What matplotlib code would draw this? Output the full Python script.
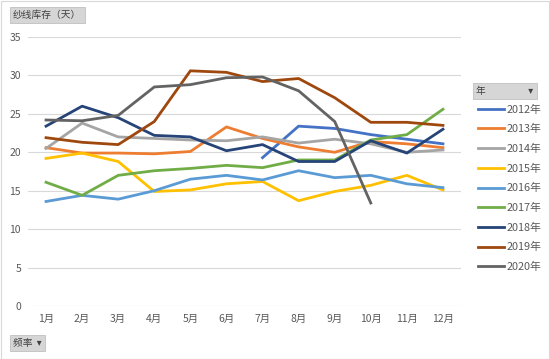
import matplotlib.pyplot as plt
from matplotlib.lines import Line2D
from matplotlib.patches import Rectangle

plt.rcParams['font.family'] = ['Noto Sans CJK SC', 'DejaVu Sans']

months = ['1月', '2月', '3月', '4月', '5月', '6月', '7月', '8月', '9月', '10月', '11月', '12月']

# inventory days per month, one list per year (None = no data)
y2012 = [None, None, None, None, None, None, 19.3, 23.4, 23.1, 22.3, 21.7, 21.1]
y2013 = [20.6, 19.9, 19.9, 19.8, 20.1, 23.3, 21.8, 20.7, 20.0, 21.4, 21.1, 20.6]
y2014 = [20.5, 23.8, 22.0, 21.8, 21.6, 21.5, 22.0, 21.2, 21.7, 21.1, 20.0, 20.3]
y2015 = [19.2, 19.9, 18.8, 14.9, 15.1, 15.9, 16.2, 13.7, 14.9, 15.7, 17.0, 15.1]
y2016 = [13.6, 14.4, 13.9, 15.0, 16.5, 17.0, 16.4, 17.6, 16.7, 17.0, 15.9, 15.4]
y2017 = [16.1, 14.4, 17.0, 17.6, 17.9, 18.3, 18.0, 19.0, 19.0, 21.6, 22.3, 25.6]
y2018 = [23.4, 26.0, 24.5, 22.2, 22.0, 20.2, 21.0, 18.8, 18.8, 21.5, 19.9, 23.0]
y2019 = [21.9, 21.3, 21.0, 24.0, 30.6, 30.4, 29.2, 29.6, 27.1, 23.9, 23.9, 23.5]
y2020 = [24.2, 24.1, 24.8, 28.5, 28.8, 29.7, 29.8, 28.0, 24.0, 13.4, None, None]

series = [
    ('2012年', y2012, '#4472C4'),
    ('2013年', y2013, '#ED7D31'),
    ('2014年', y2014, '#A5A5A5'),
    ('2015年', y2015, '#FFC000'),
    ('2016年', y2016, '#5B9BD5'),
    ('2017年', y2017, '#70AD47'),
    ('2018年', y2018, '#264478'),
    ('2019年', y2019, '#9E480E'),
    ('2020年', y2020, '#636363'),
]

fig = plt.figure(figsize=(5.5, 3.59), dpi=100)
fig.patches.append(Rectangle((0.001, 0.001), 0.997, 0.996, transform=fig.transFigure,
                             fill=False, edgecolor='#d9d9d9', linewidth=0.8))

ax = fig.add_axes([28 / 550, 1 - 306 / 359, 433 / 550, 269 / 359])
x = list(range(len(months)))
for name, vals, color in series:
    xs = [i for i, v in zip(x, vals) if v is not None]
    ys = [v for v in vals if v is not None]
    ax.plot(xs, ys, color=color, linewidth=2.0, solid_joinstyle='round', label=name)

ax.set_xlim(-0.5, 11.5)
ax.set_ylim(0, 35)
ax.set_yticks(range(0, 36, 5))
ax.set_xticks(x)
ax.set_xticklabels(months)
ax.yaxis.grid(True, color='#d9d9d9', linewidth=0.8)
ax.set_axisbelow(True)
for s in ax.spines.values():
    s.set_visible(False)
ax.tick_params(length=0, colors='#595959', labelsize=7.5, pad=5)
ax.tick_params(axis='x', pad=6)

# field buttons
btn = dict(boxstyle='square,pad=0.35', facecolor='#d6d6d6', edgecolor='#c0c0c0', linewidth=0.6)
fig.text(13 / 550, 1 - 15 / 359, '纱线库存（天）', fontsize=7, color='#404040', va='center', bbox=btn)
fig.text(13 / 550, 1 - 343 / 359, '频率  ▾', fontsize=7, color='#404040', va='center', bbox=btn)
fig.text(476 / 550, 1 - 91 / 359, '年                    ▾', fontsize=7, color='#404040', va='center', bbox=btn)

handles = [Line2D([], [], color=c, linewidth=2.0) for _, _, c in series]
fig.legend(handles, [n for n, _, _ in series], loc='upper left',
           bbox_to_anchor=(474 / 550, 1 - 100 / 359), frameon=False,
           fontsize=7.8, labelcolor='#595959', handlelength=2.4,
           handletextpad=0.2, labelspacing=0.88, borderaxespad=0)

fig.savefig('out.png', dpi=100)
